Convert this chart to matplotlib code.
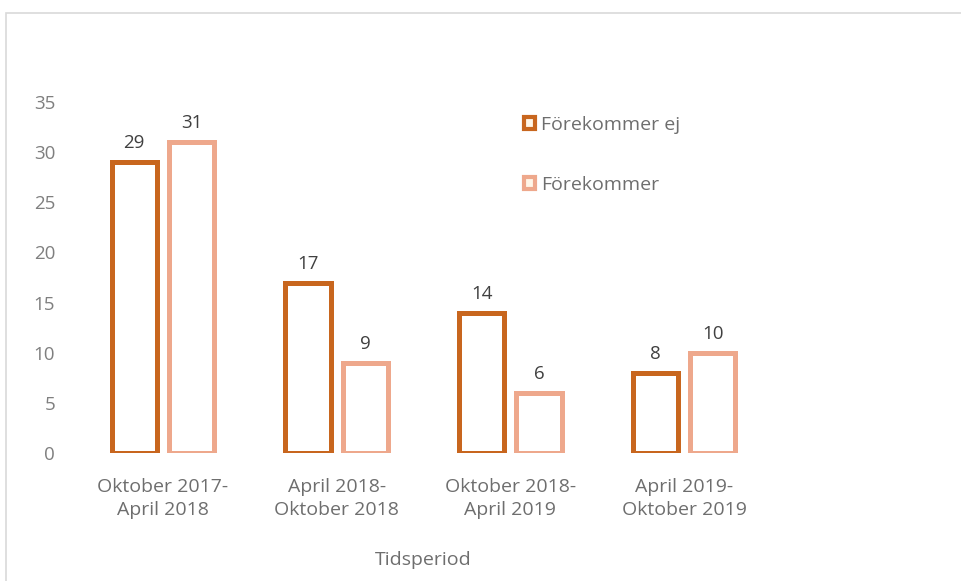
import numpy as np
import matplotlib.pyplot as plt
from matplotlib.patches import Rectangle, Patch

# Data
periods = ["Oktober 2017-\nApril 2018", "April 2018-\nOktober 2018",
           "Oktober 2018-\nApril 2019", "April 2019-\nOktober 2019"]
forekommer_ej = [29, 17, 14, 8]
forekommer = [31, 9, 6, 10]

dark = "#C8661E"
light = "#EEA88C"
grey = "#6E6E6E"

plt.rcParams['font.family'] = ['Open Sans', 'DejaVu Sans']

fig = plt.figure(figsize=(9.61, 5.81), dpi=100)
ax = fig.add_axes([76 / 961, 1 - 453 / 581, (771 - 76) / 961, (453 - 102) / 581])

# chart border
fig.patches.append(Rectangle((6 / 961, -0.1), 1.2, 1 - 13 / 581 + 0.1,
                             transform=fig.transFigure, fill=False,
                             edgecolor="#D9D9D9", linewidth=1.2))

x = np.arange(len(periods))
w = 0.26
off = 0.165
b1 = ax.bar(x - off, forekommer_ej, w, facecolor="white", edgecolor=dark,
            linewidth=3.6, label="Förekommer ej")
b2 = ax.bar(x + off, forekommer, w, facecolor="white", edgecolor=light,
            linewidth=3.6, label="Förekommer")

for bars in (b1, b2):
    for rect in bars:
        h = rect.get_height()
        ax.annotate(f"{h:g}", (rect.get_x() + rect.get_width() / 2, h),
                    xytext=(0, 7), textcoords="offset points",
                    ha="center", va="bottom", fontsize=13.5, color="#404040")

ax.set_xlim(-0.5, 3.5)
ax.set_ylim(0, 35)
ax.set_yticks(range(0, 36, 5))
ax.set_xticks(x)
ax.set_xticklabels(periods, fontsize=14, color=grey, linespacing=1.35)
ax.tick_params(axis="y", labelsize=13.5, labelcolor="#7F7F7F", length=0, pad=15)
ax.tick_params(axis="x", length=0, pad=18)
for s in ax.spines.values():
    s.set_visible(False)

fig.text(423 / 961, 1 - 560 / 581, "Tidsperiod", ha="center", va="center",
         fontsize=14, color=grey)

handles = [Patch(facecolor="#FFF6E8", edgecolor=dark, linewidth=3),
           Patch(facecolor="#FFF6E8", edgecolor=light, linewidth=3)]
fig.legend(handles, ["Förekommer ej", "Förekommer"], loc="upper left",
           bbox_to_anchor=(514 / 961, 1 - 106 / 581), frameon=False,
           fontsize=14, labelcolor=grey, handlelength=0.6, handleheight=0.6,
           handletextpad=0.3, labelspacing=2.15, borderpad=0)

fig.savefig("out.png", dpi=100, facecolor="white")
